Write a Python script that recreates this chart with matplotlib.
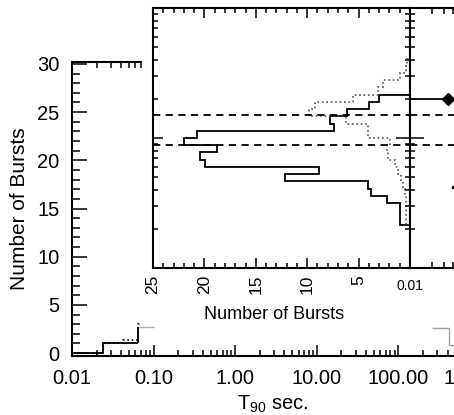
import numpy as np
import matplotlib
matplotlib.use('Agg')
import matplotlib.pyplot as plt
from matplotlib.patches import Rectangle
from matplotlib.ticker import (MultipleLocator, FixedLocator, FuncFormatter,
                               FormatStrFormatter, NullFormatter)

plt.rcParams['font.family'] = ['Liberation Sans', 'DejaVu Sans']
plt.rcParams['mathtext.default'] = 'regular'

# main panel: T90 histogram (only what is not covered by the two inner panels)
short_edges = [0.0105, 0.024, 0.065, 0.10]
short_solid = [0.0, 1.0, 2.7]
short_dot_edges = [0.0105, 0.024, 0.042, 0.065, 0.07]
short_dot = [0.05, 1.05, 1.35, 3.0]
long_edges = [258, 417, 1000]
long_solid = [2.6, 0.85]

# inset: hardness ratio histogram, bins of 1/18 decade starting at 10**(-12/18)
hr_bin = 1 / 18
hr_first = -12
hr_solid = [1.0, 1.0, 1.0, 2.2, 3.8, 4.1, 12.2, 8.9, 19.9, 20.4,
            18.8, 22.0, 20.7, 7.4, 7.8, 6.1, 4.0, 3.0]
hr_dot = [0.4, 0.4, 0.4, 0.4, 0.5, 0.7, 0.9, 1.2, 1.5, 2.1, 2.2, 1.9,
          4.1, 4.1, 6.2, 9.8, 9.2, 5.5, 3.1, 2.6, 1.0, 0.4, 0.3]
hr_cuts = [0.88, 1.5]

# right panel (cropped): T90 vs hardness
pt_t90 = [0.034, 0.040]
pt_hr = [2.0, 0.42]

LW = 1.3

fig = plt.figure(figsize=(4.54, 4.15), dpi=100)

# ---- main axes
ax = fig.add_axes([72/454, 1-356/415, 408/454, 294/415], zorder=0)
ax.set_xscale('log')
ax.set_xlim(0.01, 1000)
ax.set_ylim(-0.3, 30.2)

ax.stairs(short_solid[:2], short_edges[:3], baseline=None, color='k', lw=LW)
ax.vlines(short_edges[2], short_solid[1], short_solid[2], color='k', lw=LW)
ax.stairs(short_solid[2:], short_edges[2:], baseline=None, color='#b0b0b0', lw=1.0)
ax.stairs(short_dot, short_dot_edges, baseline=None, color='k', lw=1.2, ls=':')
ax.stairs(long_solid, long_edges, baseline=None, color='#a0a0a0', lw=1.0)

ax.yaxis.set_major_locator(MultipleLocator(5))
ax.yaxis.set_minor_locator(MultipleLocator(1))
ax.xaxis.set_major_formatter(FormatStrFormatter('%.2f'))
ax.xaxis.set_minor_formatter(NullFormatter())
ax.tick_params(which='both', direction='in', top=True, right=True, width=1.1,
               labelsize=14.5, pad=9)
ax.tick_params(axis='y', which='major', length=11)
ax.tick_params(axis='y', which='minor', length=6)
ax.tick_params(axis='x', which='major', length=8)
ax.tick_params(axis='x', which='minor', length=4)
for s in ax.spines.values():
    s.set_linewidth(1.5)
ax.set_ylabel('Number of Bursts', fontsize=15)
ax.yaxis.set_label_coords(-0.105, 0.5)
ax.set_xlabel('T$_{90}$ sec.', fontsize=14.5)
ax.xaxis.set_label_coords(0.493, -0.128)

# white margin around the inner panels
fig.add_artist(Rectangle((142/454, 1-268/415), 268/454, 264/415,
                         transform=fig.transFigure, facecolor='white',
                         edgecolor='none', zorder=0.5))

# ---- inset: hardness histogram, counts axis reversed
ax_in = fig.add_axes([153/454, 1-268/415, 257/454, 260/415], zorder=1)
solid_edges = 10 ** ((np.arange(len(hr_solid) + 1) + hr_first) * hr_bin)
dot_edges = 10 ** ((np.arange(len(hr_dot) + 1) + hr_first) * hr_bin)
ax_in.stairs(hr_solid, solid_edges, orientation='horizontal', color='k', lw=LW)
ax_in.stairs(hr_dot, dot_edges, orientation='horizontal', color='#555555',
             lw=1.2, ls=':')
for c in hr_cuts:
    ax_in.axhline(c, color='k', lw=1.3, dashes=(4, 3))
ax_in.set_yscale('log')
ax_in.set_ylim(0.1, 10)
ax_in.set_xlim(25, 0)
ax_in.xaxis.set_major_locator(FixedLocator([25, 20, 15, 10, 5]))
ax_in.xaxis.set_minor_locator(MultipleLocator(1))
ax_in.yaxis.set_major_formatter(NullFormatter())
ax_in.yaxis.set_minor_formatter(NullFormatter())
ax_in.tick_params(which='both', direction='in', top=True, bottom=True,
                  left=True, right=False, width=1.1, labelleft=False)
ax_in.tick_params(which='major', length=7)
ax_in.tick_params(which='minor', length=3.6)
ax_in.tick_params(axis='x', labelrotation=90, labelsize=12.5, pad=5)
for s in ax_in.spines.values():
    s.set_linewidth(1.5)
ax_in.set_xlabel('Number of Bursts', fontsize=13)
ax_in.xaxis.set_label_coords(0.47, -0.145)

# ---- right panel: T90 vs hardness (cut off by the frame)
ax_r = fig.add_axes([410/454, 1-268/415, 360/454, 260/415], zorder=1)
ax_r.set_xscale('log')
ax_r.set_yscale('log')
ax_r.set_xlim(0.01, 1000)
ax_r.set_ylim(0.1, 10)
for c in hr_cuts:
    ax_r.axhline(c, color='k', lw=1.3, dashes=(4, 3))
ax_r.errorbar(pt_t90[:1], pt_hr[:1], xerr=[[0.03], [1.0]], fmt='D', color='k',
              ms=6, lw=LW, capsize=0)
ax_r.plot(pt_t90[1:], pt_hr[1:], 'o', color='k', ms=1.5)
# only the first label of this panel falls inside the picture
ax_r.xaxis.set_major_formatter(
    FuncFormatter(lambda v, pos: '%.2f' % v if v < 0.05 else ''))
ax_r.xaxis.set_minor_formatter(NullFormatter())
ax_r.yaxis.set_major_formatter(NullFormatter())
ax_r.yaxis.set_minor_formatter(NullFormatter())
ax_r.tick_params(which='both', direction='in', top=True, bottom=True,
                 left=True, right=False, width=1.1, labelsize=10, pad=8)
ax_r.tick_params(axis='x', which='major', length=7)
ax_r.tick_params(axis='x', which='minor', length=4.5)
ax_r.tick_params(axis='y', which='major', direction='inout', length=20)
ax_r.tick_params(axis='y', which='minor', direction='inout', length=7)
for s in ax_r.spines.values():
    s.set_linewidth(1.5)

fig.savefig('out.png', dpi=100)
